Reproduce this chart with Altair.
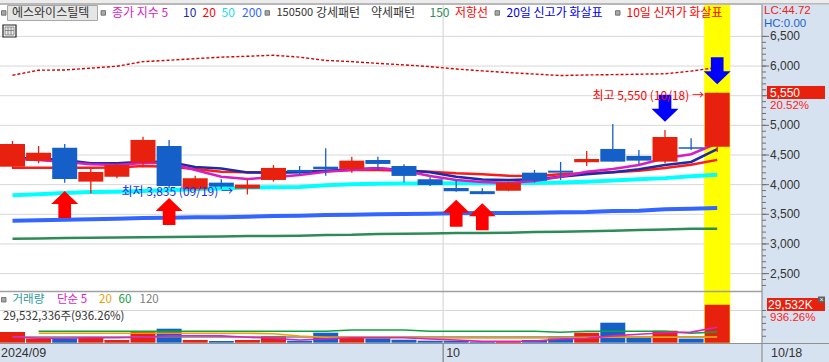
import altair as alt
import pandas as pd

# ---------------- data ----------------
dates = ["09/03", "09/04", "09/05", "09/06", "09/09", "09/10", "09/11", "09/12", "09/13",
         "09/19", "09/20", "09/23", "09/24", "09/25", "09/26", "09/27", "09/30",
         "10/02", "10/04", "10/07", "10/08", "10/10", "10/11", "10/14", "10/15", "10/16",
         "10/17", "10/18"]
opens = [4303, 4405, 4624, 4051, 4135, 4371, 4652, 3922, 4034, 3933, 4079, 4248, 4303, 4265,
         4416, 4315, 4091, 3944, 3890, 3899, 4202, 4236, 4378, 4602, 4484, 4388, 4631, 4641]
highs = [4737, 4652, 4686, 4265, 4361, 4809, 4754, 4152, 4091, 4091, 4332, 4315, 4614, 4472,
         4472, 4344, 4125, 4079, 3940, 4051, 4248, 4383, 4568, 5023, 4585, 4922, 4782, 5550]
lows = [4265, 4361, 4034, 3850, 4108, 4293, 3944, 3902, 3928, 3835, 4051, 4164, 4152, 4202,
        4260, 4040, 3978, 3880, 3838, 3890, 4034, 4079, 4315, 4388, 4349, 4361, 4585, 4550]
closes = [4686, 4540, 4096, 4214, 4332, 4754, 3978, 4108, 3966, 4000, 4282, 4209, 4260, 4405,
          4349, 4147, 3995, 3889, 3840, 4034, 4067, 4202, 4433, 4388, 4405, 4804, 4605, 5550]
volumes_k = [8314, 3341, 3341, 3885, 2098, 9091, 10878, 2098, 1321, 2098, 5206, 1554, 7770, 3885,
             3341, 2331, 1554, 1554, 777, 1321, 2098, 4662, 7770, 15540, 4196, 9324, 3154, 29532]

ma5 = [4431, 4416, 4383, 4344, 4332, 4366, 4366, 4248, 4135, 4096, 4125, 4164, 4219, 4248,
       4276, 4236, 4147, 4079, 4045, 4029, 4062, 4135, 4219, 4265, 4332, 4445, 4513, 4698]
ma10 = [4450, 4442, 4416, 4361, 4361, 4388, 4383, 4298, 4273, 4206, 4202, 4209, 4231, 4260,
        4276, 4248, 4209, 4135, 4088, 4079, 4091, 4135, 4175, 4209, 4260, 4332, 4383, 4597]
ma20 = [4287, 4287, 4287, 4287, 4290, 4315, 4303, 4265, 4219, 4209, 4209, 4219, 4231, 4248,
        4248, 4236, 4219, 4192, 4175, 4152, 4147, 4175, 4192, 4209, 4235, 4280, 4335, 4418]
ma50 = [3822, 3840, 3860, 3875, 3882, 3895, 3905, 3925, 3935, 3950, 3956, 3962, 3990, 4005,
        4015, 4018, 4020, 4022, 4024, 4024, 4026, 4035, 4050, 4070, 4090, 4110, 4140, 4165]
ma150 = [3089, 3092, 3100, 3106, 3108, 3112, 3118, 3120, 3125, 3135, 3135, 3140, 3152, 3155,
         3169, 3170, 3175, 3186, 3186, 3190, 3200, 3207, 3215, 3224, 3235, 3245, 3255, 3258]
ma200 = [3393, 3400, 3410, 3416, 3425, 3438, 3440, 3450, 3452, 3458, 3470, 3475, 3489, 3492,
         3500, 3506, 3510, 3518, 3520, 3522, 3525, 3535, 3540, 3556, 3560, 3585, 3595, 3607]
resist = [5845, 5930, 5934, 5965, 5997, 6074, 6098, 6125, 6150, 6165, 6182, 6150, 6095, 6074,
          6045, 6020, 5990, 5950, 5918, 5890, 5865, 5840, 5850, 5855, 5862, 5870, 5915, 5975]

vma5 = [4429, 3419, 3419, 3800, 3800, 4196, 5439, 5400, 5300, 4196, 3419, 2098, 3108, 3900,
        3900, 3900, 2875, 2098, 1000, 1000, 1321, 2875, 3419, 5300, 6527, 7770, 8200, 11966]
vma20 = [None, 7304, 7304, 7304, 7304, 7304, 7304, 7304, 7304, 7304, 7000, 5206, 4196, 4196,
         4196, 4196, 3652, 3652, 3652, 3652, 3652, 3652, 4000, 4196, 4196, 4196, 4196, 4429]
vma60 = [None, 8858, 8858, 8858, 8858, 8858, 8858, 8858, 8858, 8858, 8858, 8858, 8858, 9868,
         9868, 9868, 8858, 8858, 8858, 8858, 8858, 8081, 8858, 8858, 8858, 8858, 7304, 8400]
vma120 = [4429, 4429, 4429, 4429, 4429, 4429, 4429, 4429, 4429, 4429, 4429, 4429, 4429, 4429,
          4429, 4429, 4429, 4429, 4429, 4429, 4429, 4429, 4429, 4429, 4429, 4429, 4429, 4600]

up_arrow_idx = [2, 6, 17, 18]
up_arrow_price = [3666, 3548, 3518, 3460]
down_arrow_idx = [25, 27]
down_arrow_price = [5288, 5920]

price_grid = [2500, 3000, 3500, 4000, 4500, 5000, 5500, 6000, 6500]
price_labels = [2500, 3000, 3500, 4000, 4500, 5000, 6000, 6500]   # 5,500 is hidden by the price box
price_minor = list(range(2300, 6600, 100))
vol_ticks = [5000, 10000, 15000, 20000, 25000]
vol_grid = [25000]

# ---------------- styles ----------------
KR = "Noto Sans CJK KR"
NUM = "Liberation Sans"
RED = "#E8200E"
BLUE = "#1560C8"
GRID = "#D8D8D8"
PANEL = "#D6E2F0"

n = len(dates)
df = pd.DataFrame({
    "i": list(range(n)), "date": dates, "o": opens, "h": highs, "l": lows, "c": closes,
    "v": volumes_k, "ma5": ma5, "ma10": ma10, "ma20": ma20, "ma50": ma50, "ma150": ma150,
    "ma200": ma200, "resist": resist, "vma5": vma5, "vma20": vma20, "vma60": vma60,
    "vma120": vma120,
})
df["dir"] = ["up" if c >= o else "down" for o, c in zip(opens, closes)]

STEP = 26.1
X0 = -12.5 / STEP
XS = alt.Scale(domain=[X0, X0 + 829 / STEP], range=[0, 829], nice=False, zero=False, padding=0)
PS = alt.Scale(domain=[2500, 6500], range=[273.6, 36.4], nice=False, zero=False)
VS = alt.Scale(domain=[0, 40000], range=[342.7, 291.2], nice=False, zero=False)
CS = alt.Scale(domain=["up", "down"], range=[RED, BLUE])


def X(f):
    return alt.X(f"{f}:Q", scale=XS, axis=None)


def PY(f):
    return alt.Y(f"{f}:Q", scale=PS, axis=None)


def VY(f):
    return alt.Y(f"{f}:Q", scale=VS, axis=None)


one = pd.DataFrame({"k": [0]})


def prect(x, x2, y, y2, fill, stroke=None, sw=1.0):
    kw = dict(fill=fill, strokeWidth=0)
    if stroke:
        kw.update(stroke=stroke, strokeWidth=sw)
    return alt.Chart(one).mark_rect(**kw).encode(
        x=alt.value(x), x2=alt.value(x2), y=alt.value(y), y2=alt.value(y2))


def hline(x, x2, y, color, w=1.0):
    return alt.Chart(one).mark_rule(color=color, strokeWidth=w).encode(
        x=alt.value(x), x2=alt.value(x2), y=alt.value(y))


def vline(x, y, y2, color, w=1.0):
    return alt.Chart(one).mark_rule(color=color, strokeWidth=w).encode(
        x=alt.value(x), y=alt.value(y), y2=alt.value(y2))


def txt(s, x, y, color, size=12, align="left", font=KR):
    return alt.Chart(one).mark_text(text=s, align=align, baseline="middle", color=color,
                                    fontSize=size, font=font).encode(
        x=alt.value(x), y=alt.value(y))


def sq(x, y):
    return prect(x, x + 4.5, y, y + 4.5, "#A8A8A8", "#606060", 0.8)


layers = []

# top band
layers.append(prect(0, 829, 0, 3, "#ECECEC"))
layers.append(hline(0, 829, 4, "#A0A0A0", 1.5))

# price gridlines
pg = pd.DataFrame({"p": price_grid})
layers.append(alt.Chart(pg).mark_rule(color=GRID, strokeWidth=1).encode(
    y=PY("p"), x=alt.value(0), x2=alt.value(762)))
# volume gridline
vg = pd.DataFrame({"v": vol_grid})
layers.append(alt.Chart(vg).mark_rule(color=GRID, strokeWidth=1).encode(
    y=VY("v"), x=alt.value(0), x2=alt.value(762)))
# month boundary line
mb = [k - 0.5 for k in range(1, n) if dates[k][:2] != dates[k - 1][:2]]
mdf = pd.DataFrame({"m": mb, "lab": [dates[int(m + 0.5)][:2] for m in mb]})
layers.append(alt.Chart(mdf).mark_rule(color=GRID, strokeWidth=1.2).encode(
    x=X("m"), y=alt.value(5), y2=alt.value(343)))

# yellow highlight on last candle
hl = pd.DataFrame({"a": [n - 1.5], "b": [n - 0.5]})
layers.append(alt.Chart(hl).mark_rect(color="#FFFF00").encode(
    x=X("a"), x2=alt.X2("b"), y=alt.value(5), y2=alt.value(343)))


# moving averages and resistance line
def line(col, color, w, dash=None):
    kw = dict(color=color, strokeWidth=w)
    if dash:
        kw["strokeDash"] = dash
    return alt.Chart(df).mark_line(**kw).encode(x=X("i"), y=PY(col))


layers.append(line("resist", "#D80000", 1.4, [3, 2]))
layers.append(line("ma150", "#2E8B57", 2.5))
layers.append(line("ma200", "#3366FF", 4))
layers.append(line("ma50", "#00FFFF", 4))
layers.append(line("ma20", "#FF1A1A", 2.5))
layers.append(line("ma10", "#1A2CA8", 2.5))
layers.append(line("ma5", "#D81EC0", 2.5))

# candles
layers.append(alt.Chart(df).mark_rule(strokeWidth=1.3).encode(
    x=X("i"), y=PY("l"), y2=alt.Y2("h"), color=alt.Color("dir:N", scale=CS, legend=None)))
layers.append(alt.Chart(df).mark_bar(size=25).encode(
    x=X("i"), y=PY("o"), y2=alt.Y2("c"), color=alt.Color("dir:N", scale=CS, legend=None)))

# volume bars and averages
layers.append(alt.Chart(df).mark_bar(size=25).encode(
    x=X("i"), y=VY("v"), color=alt.Color("dir:N", scale=CS, legend=None)))


def vline_ma(col, color):
    return alt.Chart(df).mark_line(color=color, strokeWidth=1.6).encode(x=X("i"), y=VY(col))


layers.append(vline_ma("vma120", "#808080"))
layers.append(vline_ma("vma60", "#10A040"))
layers.append(vline_ma("vma20", "#F0A000"))
layers.append(vline_ma("vma5", "#E020C0"))

# signal arrows
UP = "M0,-1L1,-0.04L0.47,-0.04L0.47,1L-0.47,1L-0.47,-0.04L-1,-0.04Z"
DOWN = "M0,1L1,0.04L0.47,0.04L0.47,-1L-0.47,-1L-0.47,0.04L-1,0.04Z"
ua = pd.DataFrame({"i": up_arrow_idx, "p": up_arrow_price})
da = pd.DataFrame({"i": down_arrow_idx, "p": down_arrow_price})
layers.append(alt.Chart(ua).mark_point(shape=UP, size=729, filled=True, opacity=1,
                                       color="#FF0000", strokeWidth=0).encode(x=X("i"), y=PY("p")))
layers.append(alt.Chart(da).mark_point(shape=DOWN, size=729, filled=True, opacity=1,
                                       color="#0000FF", strokeWidth=0).encode(x=X("i"), y=PY("p")))

# high / low annotations
layers.append(txt("최저 3,835 (09/19) →", 233, 192, "#1E2DF0", align="right"))
layers.append(txt("최고 5,550 (10/18) →", 704, 96, "#FF0000", align="right"))

# pane separator
layers.append(hline(0, 762, 291.5, "#A0A0A0", 1.5))

# right axis panel & bottom strip
layers.append(prect(762, 829, 4.5, 362, PANEL))
layers.append(prect(0, 829, 343.5, 362, PANEL))
layers.append(hline(0, 829, 343.5, "#909090", 1.2))
layers.append(vline(762, 4.5, 362, "#909090", 1.2))
layers.append(alt.Chart(mdf).mark_rule(color="#808080", strokeWidth=1.2).encode(
    x=X("m"), y=alt.value(343.5), y2=alt.value(362)))
layers.append(alt.Chart(mdf).mark_text(align="left", baseline="middle", font=NUM, fontSize=12.5,
                                       color="#333333", dx=3).encode(
    x=X("m"), y=alt.value(352.5), text="lab:N"))
layers.append(txt("2024/09", 1, 352.5, "#333333", size=12.5, font=NUM))
layers.append(txt(dates[-1], 771, 352.5, "#333333", size=12.5, font=NUM))

# price axis ticks / labels
pm = pd.DataFrame({"p": price_minor})
layers.append(alt.Chart(pm).mark_rule(color="#707070", strokeWidth=1).encode(
    y=PY("p"), x=alt.value(762), x2=alt.value(766)))
layers.append(alt.Chart(pg).mark_rule(color="#707070", strokeWidth=1).encode(
    y=PY("p"), x=alt.value(762), x2=alt.value(769)))
pl = pd.DataFrame({"p": price_labels})
layers.append(alt.Chart(pl).mark_text(align="left", baseline="middle", font=NUM, fontSize=12,
                                      color="#333333").encode(
    y=PY("p"), x=alt.value(770), text=alt.Text("p:Q", format=",")))
vt = pd.DataFrame({"v": vol_ticks})
layers.append(alt.Chart(vt).mark_rule(color="#707070", strokeWidth=1).encode(
    y=VY("v"), x=alt.value(762), x2=alt.value(766)))

# price / volume value boxes
layers.append(prect(767, 825, 86, 99, "#E8200E"))
layers.append(txt("5,550", 770, 92.5, "#FFFFFF", font=NUM))
layers.append(txt("20.52%", 770, 106.2, "#FF2020", size=11.5, font=NUM))
layers.append(prect(767, 825, 298, 311, "#E8200E"))
layers.append(txt("29,532K", 768, 304.5, "#FFFFFF", font=NUM))
layers.append(txt("936.26%", 770, 318.2, "#FF2020", size=11.5, font=NUM))
layers.append(prect(818, 825, 296.5, 302.5, "#606060"))
layers.append(txt("×", 821.5, 299.5, "#FFFFFF", size=7, align="center", font=NUM))
layers.append(txt("LC:44.72", 764, 10.8, "#F02020", size=11.5, font=NUM))
layers.append(txt("HC:0.00", 764, 23.6, "#1E64C8", size=11.5, font=NUM))

# legend row (price pane)
layers.append(sq(1.5, 10.7))
layers.append(prect(7.5, 97.5, 5.5, 20.5, "#E6E6E6", "#A8A8A8", 1))
layers.append(txt("에스와이스틸텍", 12, 13, "#333333"))
layers.append(sq(101, 10.7))
layers.append(txt("종가 지수 5", 112, 13, "#D81EC0"))
layers.append(txt("10", 183, 13, "#1A2CA8"))
layers.append(txt("20", 202.5, 13, "#FF0000"))
layers.append(txt("50", 221.5, 13, "#18DDEE"))
layers.append(txt("200", 242, 13, "#3366FF"))
layers.append(sq(265, 10.7))
layers.append(txt("150500", 276.5, 13, "#333333", size=11))
layers.append(txt("강세패턴", 316, 13, "#333333"))
layers.append(txt("약세패턴", 371, 13, "#333333"))
layers.append(txt("150", 429.5, 13, "#2E8B57"))
layers.append(txt("저항선", 455, 13, "#FF0000"))
layers.append(sq(495, 10.7))
layers.append(txt("20일 신고가 화살표", 506.5, 13, "#0000EE"))
layers.append(sq(615.5, 10.7))
layers.append(txt("10일 신저가 화살표", 626.5, 13, "#FF0000"))

# grid icon
layers.append(prect(3, 16, 25, 37, "#FFFFFF", "#222222", 1.2))
layers.append(prect(5, 14, 27, 35, "#E8E8E8", "#777777", 0.8))
layers.append(vline(8, 27, 35, "#777777", 0.8))
layers.append(vline(11, 27, 35, "#777777", 0.8))
layers.append(hline(5, 14, 30.5, "#777777", 0.8))

# legend rows (volume pane)
layers.append(sq(1.5, 297.5))
layers.append(txt("거래량", 12.5, 299.5, "#2A9A9A", size=11.5))
layers.append(txt("단순 5", 57, 299.5, "#D81EC0", size=11.5))
layers.append(txt("20", 99, 299.5, "#F0A000", size=11.5))
layers.append(txt("60", 118.5, 299.5, "#10A040", size=11.5))
layers.append(txt("120", 139.5, 299.5, "#808080", size=11.5))
layers.append(txt("29,532,336주(936.26%)", 3, 316.5, "#333333", size=11.5))

chart = alt.layer(*layers).resolve_scale(y="independent").properties(
    width=829, height=362, padding=0,
    autosize=alt.AutoSizeParams(type="none"), background="#FFFFFF",
).configure_view(stroke=None)

chart.save("out.html", embed_options={"renderer": "svg", "actions": False})
